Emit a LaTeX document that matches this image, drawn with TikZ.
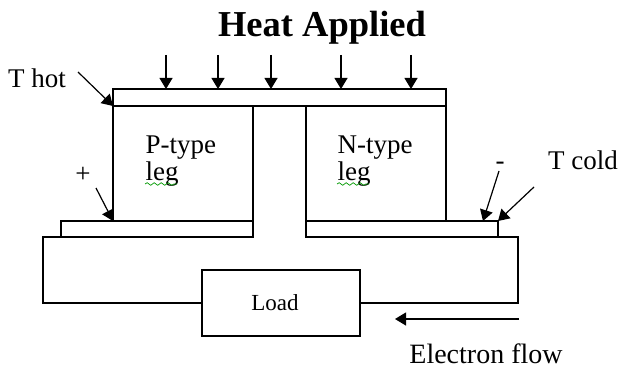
\documentclass[tikz,border=0pt]{standalone}
\usepackage{fontspec}
\setmainfont{Liberation Serif}
\usepackage{xcolor}
\usetikzlibrary{positioning,arrows.meta,decorations.pathmorphing}

\begin{document}
\begin{tikzpicture}[
    x = 1pt, y = -1pt,
    box/.style = {draw, line width=1.2pt, inner sep=0pt, outer sep=0pt},
    txt/.style = {inner sep=0pt, font=\fontsize{27}{27}\selectfont, align=left},
    squiggle/.style = {draw=green!60!black, line width=0.7pt, decorate, decoration={snake, amplitude=1.3pt, segment length=7pt}},
    line width = 1.2pt,
    > = {Triangle[length=11pt, width=13pt]}
]
\useasboundingbox (0,0) rectangle (619,369);

\node (hot) [box, minimum width=333pt, minimum height=17pt] at (279.5,97.5) {};
\node (Pleg) [box, minimum width=140pt, minimum height=115pt, below right=0pt and 0pt of hot.south west, anchor=north west] {};
\node (Nleg) [box, minimum width=140pt, minimum height=115pt, below left=0pt and 0pt of hot.south east, anchor=north east] {};
\node (Pcold) [box, minimum width=192pt, minimum height=16pt, anchor=north east] at (Pleg.south east) {};
\node (Ncold) [box, minimum width=192pt, minimum height=16pt, anchor=north west] at (Nleg.south west) {};
\node (load) [box, minimum width=158pt, minimum height=66pt] at (281,303) {};

\node (title) [inner sep=0pt, font=\fontsize{36.5}{36.5}\selectfont\bfseries] at (322,28) {Heat Applied};
\node (Tlabel) [txt] at (37,78) {T hot};
\node (plus) [txt] at (83,175) {+};
\node (minus) [txt] at (500,166) {-};
\node (Ccold) [txt] at (583,160) {T cold};
\node (Ptxt) [txt, anchor=north west] at (145,135) {P-type\\leg};
\node (Ntxt) [txt, anchor=north west] at (337,135) {N-type\\leg};
\node (loadtxt) [txt, font=\fontsize{23}{23}\selectfont] at (275,303) {Load};
\node (flow) [txt, font=\fontsize{28}{28}\selectfont] at (486,354) {Electron flow};

\coordinate (h1) at (166,55);
\coordinate (h2) at (218,55);
\coordinate (h3) at (271,55);
\coordinate (h4) at (341,55);
\coordinate (h5) at (411,55);
\coordinate (a1) at (78,72);
\coordinate (a2) at (96,188);
\coordinate (a3) at (499,171);
\coordinate (a4) at (534,187);
\coordinate (e1) at (519,319);
\coordinate (e2) at (395,319);
\coordinate (wl) at (43,237);
\coordinate (wr) at (518,237);
\coordinate (s1) at (145,184);
\coordinate (s2) at (177,184);
\coordinate (s3) at (337,184);
\coordinate (s4) at (369,184);
\coordinate (mt) at (483,221);

\draw (load.west) -| (wl) -- (Pcold.south west);
\draw (load.east) -| (wr) -- (Ncold.south east);

\draw[->] (h1) to (h1 |- hot.north);
\draw[->] (h2) to (h2 |- hot.north);
\draw[->] (h3) to (h3 |- hot.north);
\draw[->] (h4) to (h4 |- hot.north);
\draw[->] (h5) to (h5 |- hot.north);
\draw[->] (a1) to (hot.south west);
\draw[->] (a2) to (Pleg.south west);
\draw[->] (a3) to (mt);
\draw[->] (a4) to (Ncold.north east);
\draw[->] (e1) to (e2);

\draw[squiggle] (s1) to (s2);
\draw[squiggle] (s3) to (s4);
\end{tikzpicture}
\end{document}
